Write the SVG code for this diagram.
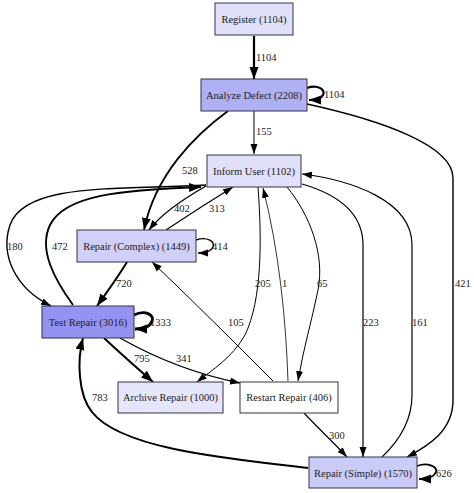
<svg xmlns="http://www.w3.org/2000/svg" width="474" height="493" viewBox="0 0 474 493">
<defs>
<style>
.n rect{stroke:#333344;stroke-width:1}
text{font-family:"Liberation Serif","Times New Roman","DejaVu Serif",serif;font-size:10.5px;fill:#222}
.n text{text-anchor:middle}
.e{fill:none;stroke:#000}
</style>
<marker id="a" markerUnits="userSpaceOnUse" markerWidth="10" markerHeight="8" refX="10" refY="4" orient="auto"><path d="M0,0.5 L10,4 L0,7.5 z" fill="#000"/></marker>
<marker id="b" markerUnits="userSpaceOnUse" markerWidth="12" markerHeight="10" refX="12" refY="5" orient="auto"><path d="M0,0.5 L12,5 L0,9.5 z" fill="#000"/></marker>
</defs>
<rect width="474" height="493" fill="#fff"/>
<g id="edges">
<path class="e" stroke-width="2.2" marker-end="url(#b)" d="M254,36 L254,79"/>
<path class="e" stroke-width="2.2" marker-end="url(#b)" d="M307,88 C318,84 326,90 323,95 C321,99 316,100 309,100"/>
<path class="e" stroke-width="1" marker-end="url(#a)" d="M254,111 L254,154"/>
<path class="e" stroke-width="1.8" marker-end="url(#b)" d="M228,111 C195,135 155,175 144,230"/>
<path class="e" stroke-width="1.4" marker-end="url(#a)" d="M307,104 C380,120 453,145 453,178 L453,400 C453,430 430,445 407,457"/>
<path class="e" stroke-width="1.4" marker-end="url(#a)" d="M206,186 C185,198 162,213 149,230"/>
<path class="e" stroke-width="1.2" marker-end="url(#a)" d="M166,230 C190,214 212,200 233,187"/>
<path class="e" stroke-width="1.4" marker-end="url(#a)" d="M196,240 C208,236 215,242 213,247 C211,252 205,253 198,253"/>
<path class="e" stroke-width="2" marker-end="url(#b)" d="M127,262 C118,277 107,292 97,306"/>
<path class="e" stroke-width="1.4" marker-end="url(#a)" d="M206,185 C120,190 25,182 10,225 C0,255 15,288 51,306"/>
<path class="e" stroke-width="1.9" marker-end="url(#b)" d="M73,305 C55,280 38,250 50,225 C65,195 120,190 201,187"/>
<path class="e" stroke-width="2.8" marker-end="url(#b)" d="M134,315 C146,309 155,316 152,321 C150,327 143,329 135,329"/>
<path class="e" stroke-width="2" marker-end="url(#b)" d="M104,338 C120,353 137,368 153,382"/>
<path class="e" stroke-width="1.3" marker-end="url(#a)" d="M120,338 C150,355 190,373 240,383"/>
<path class="e" stroke-width="1" marker-end="url(#a)" d="M258,187 C262,240 262,300 245,335 C232,358 212,370 197,382"/>
<path class="e" stroke-width="0.8" marker-end="url(#a)" d="M288,381 C286,320 279,250 263,188"/>
<path class="e" stroke-width="1" marker-end="url(#a)" d="M287,187 C310,215 325,255 318,290 C312,320 303,350 298,381"/>
<path class="e" stroke-width="1" marker-end="url(#a)" d="M273,381 C232,340 192,300 152,262"/>
<path class="e" stroke-width="1.2" marker-end="url(#a)" d="M302,184 C340,195 363,215 363,245 L363,457"/>
<path class="e" stroke-width="1.2" marker-end="url(#a)" d="M382,457 C400,440 412,420 412,395 L412,245 C412,200 350,180 302,174"/>
<path class="e" stroke-width="1.2" marker-end="url(#a)" d="M304,413 C318,428 333,442 347,457"/>
<path class="e" stroke-width="2" marker-end="url(#b)" d="M308,468 C220,458 120,448 92,412 C78,395 77,360 83,338"/>
<path class="e" stroke-width="1.8" marker-end="url(#b)" d="M417,466 C428,462 438,467 436,472 C434,477 427,479 419,479"/>
</g>
<g id="labels" font-family="Liberation Serif, serif">
<text x="256" y="61">1104</text>
<text x="324" y="98">1104</text>
<text x="256" y="135">155</text>
<text x="182" y="174">528</text>
<text x="455" y="287">421</text>
<text x="174" y="212">402</text>
<text x="209" y="212">313</text>
<text x="212" y="250">414</text>
<text x="116" y="287">720</text>
<text x="7" y="250">180</text>
<text x="52" y="250">472</text>
<text x="150" y="326">1333</text>
<text x="134" y="362">795</text>
<text x="176" y="362">341</text>
<text x="255" y="287">205</text>
<text x="282" y="287">1</text>
<text x="317" y="287">65</text>
<text x="228" y="326">105</text>
<text x="363" y="326">223</text>
<text x="412" y="326">161</text>
<text x="329" y="439">300</text>
<text x="92" y="401">783</text>
<text x="436" y="477">626</text>
</g>
<g class="n" id="register"><rect x="215" y="3" width="78" height="32" fill="#e0e0fa"/><text x="254" y="23">Register (1104)</text></g>
<g class="n" id="analyze"><rect x="201" y="79" width="106" height="32" fill="#b0b0f4"/><text x="254" y="99">Analyze Defect (2208)</text></g>
<g class="n" id="inform"><rect x="207" y="155" width="94" height="32" fill="#e0e0fa"/><text x="254" y="175">Inform User (1102)</text></g>
<g class="n" id="complex"><rect x="77" y="230" width="119" height="32" fill="#d0d0f8"/><text x="136.5" y="250">Repair (Complex) (1449)</text></g>
<g class="n" id="test"><rect x="42" y="306" width="92" height="32" fill="#9494f0"/><text x="88" y="326">Test Repair (3016)</text></g>
<g class="n" id="archive"><rect x="118" y="382" width="105" height="31" fill="#e6e6fa"/><text x="170.5" y="401">Archive Repair (1000)</text></g>
<g class="n" id="restart"><rect x="240" y="382" width="98" height="31" fill="#ffffff"/><text x="289" y="401">Restart Repair (406)</text></g>
<g class="n" id="simple"><rect x="309" y="457" width="108" height="31" fill="#cbcbf8"/><text x="363" y="477">Repair (Simple) (1570)</text></g>
</svg>
